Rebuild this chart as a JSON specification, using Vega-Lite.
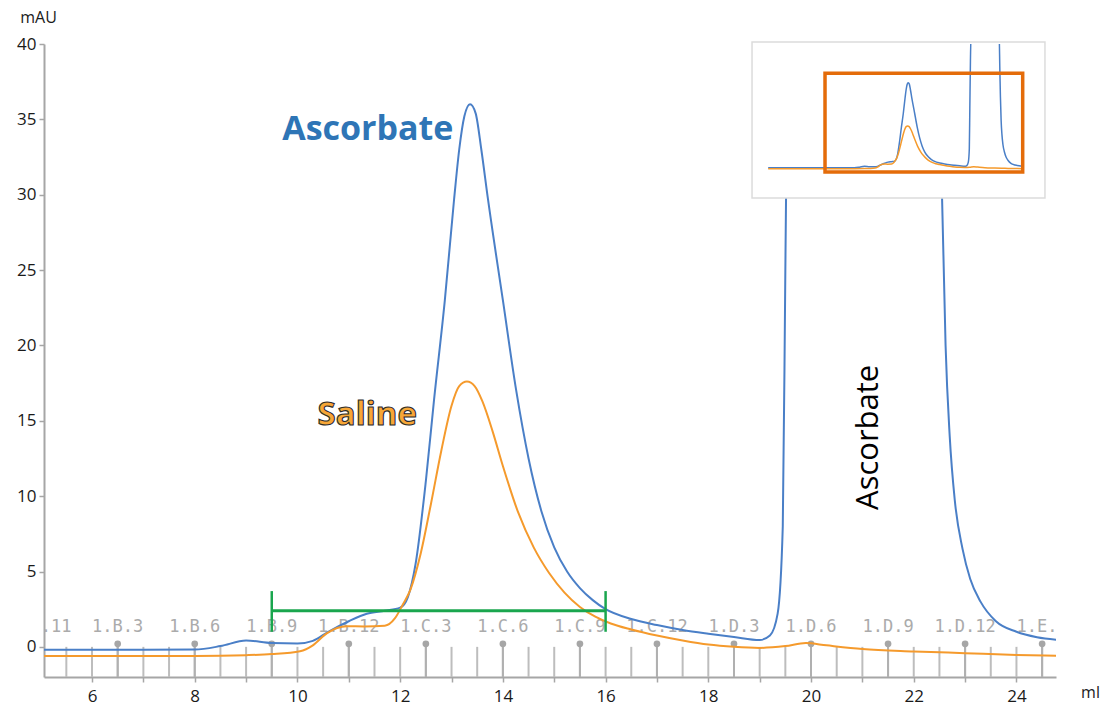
{
  "$schema": "https://vega.github.io/schema/vega-lite/v6.json",
  "autosize": {"type": "none"},
  "padding": {"left": 44, "top": 44, "right": 59, "bottom": 32},
  "width": 1012,
  "height": 633,
  "background": "white",
  "config": {"view": {"stroke": null}, "font": "Open Sans"},
  "datasets": {
    "curves": [
      {"run": "Ascorbate", "ml": -0.6, "mAU": -0.2},
      {"run": "Ascorbate", "ml": 0, "mAU": -0.2},
      {"run": "Ascorbate", "ml": 5.0, "mAU": -0.2},
      {"run": "Ascorbate", "ml": 6.0, "mAU": -0.2},
      {"run": "Ascorbate", "ml": 7.0, "mAU": -0.2},
      {"run": "Ascorbate", "ml": 8.0, "mAU": -0.18},
      {"run": "Ascorbate", "ml": 8.5, "mAU": 0.05},
      {"run": "Ascorbate", "ml": 9.0, "mAU": 0.42},
      {"run": "Ascorbate", "ml": 9.5, "mAU": 0.25},
      {"run": "Ascorbate", "ml": 10.0, "mAU": 0.22},
      {"run": "Ascorbate", "ml": 10.3, "mAU": 0.4},
      {"run": "Ascorbate", "ml": 10.6, "mAU": 1.0},
      {"run": "Ascorbate", "ml": 11.0, "mAU": 1.7},
      {"run": "Ascorbate", "ml": 11.35, "mAU": 2.2},
      {"run": "Ascorbate", "ml": 11.7, "mAU": 2.4},
      {"run": "Ascorbate", "ml": 12.0, "mAU": 2.6},
      {"run": "Ascorbate", "ml": 12.15, "mAU": 3.3},
      {"run": "Ascorbate", "ml": 12.3, "mAU": 5.5},
      {"run": "Ascorbate", "ml": 12.5, "mAU": 11.0},
      {"run": "Ascorbate", "ml": 12.66, "mAU": 16.4},
      {"run": "Ascorbate", "ml": 12.87, "mAU": 23.0},
      {"run": "Ascorbate", "ml": 13.05, "mAU": 29.7},
      {"run": "Ascorbate", "ml": 13.15, "mAU": 33.0},
      {"run": "Ascorbate", "ml": 13.25, "mAU": 35.2},
      {"run": "Ascorbate", "ml": 13.36, "mAU": 36.0},
      {"run": "Ascorbate", "ml": 13.47, "mAU": 35.4},
      {"run": "Ascorbate", "ml": 13.58, "mAU": 33.0},
      {"run": "Ascorbate", "ml": 13.71, "mAU": 29.7},
      {"run": "Ascorbate", "ml": 14.0, "mAU": 23.0},
      {"run": "Ascorbate", "ml": 14.26, "mAU": 17.0},
      {"run": "Ascorbate", "ml": 14.5, "mAU": 12.5},
      {"run": "Ascorbate", "ml": 14.75, "mAU": 9.0},
      {"run": "Ascorbate", "ml": 15.0, "mAU": 6.6},
      {"run": "Ascorbate", "ml": 15.25, "mAU": 5.0},
      {"run": "Ascorbate", "ml": 15.5, "mAU": 3.9},
      {"run": "Ascorbate", "ml": 15.75, "mAU": 3.1},
      {"run": "Ascorbate", "ml": 16.0, "mAU": 2.5},
      {"run": "Ascorbate", "ml": 16.5, "mAU": 1.85},
      {"run": "Ascorbate", "ml": 17.0, "mAU": 1.45},
      {"run": "Ascorbate", "ml": 17.5, "mAU": 1.12},
      {"run": "Ascorbate", "ml": 18.0, "mAU": 0.87},
      {"run": "Ascorbate", "ml": 18.5, "mAU": 0.65},
      {"run": "Ascorbate", "ml": 19.0, "mAU": 0.45},
      {"run": "Ascorbate", "ml": 19.2, "mAU": 0.75},
      {"run": "Ascorbate", "ml": 19.35, "mAU": 2.2},
      {"run": "Ascorbate", "ml": 19.45, "mAU": 8},
      {"run": "Ascorbate", "ml": 19.5, "mAU": 25},
      {"run": "Ascorbate", "ml": 19.56, "mAU": 45},
      {"run": "Ascorbate", "ml": 19.65, "mAU": 60},
      {"run": "Ascorbate", "ml": 22.4, "mAU": 60},
      {"run": "Ascorbate", "ml": 22.5, "mAU": 40},
      {"run": "Ascorbate", "ml": 22.55, "mAU": 30},
      {"run": "Ascorbate", "ml": 22.62, "mAU": 20},
      {"run": "Ascorbate", "ml": 22.7, "mAU": 14},
      {"run": "Ascorbate", "ml": 22.8, "mAU": 9.7},
      {"run": "Ascorbate", "ml": 22.95, "mAU": 6.5},
      {"run": "Ascorbate", "ml": 23.1, "mAU": 4.5},
      {"run": "Ascorbate", "ml": 23.3, "mAU": 3.0},
      {"run": "Ascorbate", "ml": 23.6, "mAU": 1.7},
      {"run": "Ascorbate", "ml": 24.0, "mAU": 1.0},
      {"run": "Ascorbate", "ml": 24.4, "mAU": 0.64},
      {"run": "Ascorbate", "ml": 24.8, "mAU": 0.47},
      {"run": "Saline", "ml": -0.6, "mAU": -0.6},
      {"run": "Saline", "ml": 0, "mAU": -0.6},
      {"run": "Saline", "ml": 5.0, "mAU": -0.6},
      {"run": "Saline", "ml": 7.0, "mAU": -0.6},
      {"run": "Saline", "ml": 8.0, "mAU": -0.6},
      {"run": "Saline", "ml": 9.0, "mAU": -0.55},
      {"run": "Saline", "ml": 9.5, "mAU": -0.48},
      {"run": "Saline", "ml": 10.05, "mAU": -0.29},
      {"run": "Saline", "ml": 10.3, "mAU": 0.1},
      {"run": "Saline", "ml": 10.57, "mAU": 0.9},
      {"run": "Saline", "ml": 10.96, "mAU": 1.37},
      {"run": "Saline", "ml": 11.3, "mAU": 1.35},
      {"run": "Saline", "ml": 11.7, "mAU": 1.4},
      {"run": "Saline", "ml": 11.9, "mAU": 1.9},
      {"run": "Saline", "ml": 12.05, "mAU": 2.8},
      {"run": "Saline", "ml": 12.2, "mAU": 3.8},
      {"run": "Saline", "ml": 12.4, "mAU": 6.2},
      {"run": "Saline", "ml": 12.6, "mAU": 9.5},
      {"run": "Saline", "ml": 12.8, "mAU": 13.0},
      {"run": "Saline", "ml": 13.0, "mAU": 16.0},
      {"run": "Saline", "ml": 13.15, "mAU": 17.3},
      {"run": "Saline", "ml": 13.3, "mAU": 17.6},
      {"run": "Saline", "ml": 13.45, "mAU": 17.3},
      {"run": "Saline", "ml": 13.6, "mAU": 16.3},
      {"run": "Saline", "ml": 13.8, "mAU": 14.3},
      {"run": "Saline", "ml": 14.0, "mAU": 12.0},
      {"run": "Saline", "ml": 14.3, "mAU": 8.9},
      {"run": "Saline", "ml": 14.6, "mAU": 6.6},
      {"run": "Saline", "ml": 14.9, "mAU": 4.9},
      {"run": "Saline", "ml": 15.2, "mAU": 3.6},
      {"run": "Saline", "ml": 15.5, "mAU": 2.65},
      {"run": "Saline", "ml": 15.8, "mAU": 2.0},
      {"run": "Saline", "ml": 16.1, "mAU": 1.55},
      {"run": "Saline", "ml": 16.5, "mAU": 1.15},
      {"run": "Saline", "ml": 17.0, "mAU": 0.75},
      {"run": "Saline", "ml": 17.5, "mAU": 0.42},
      {"run": "Saline", "ml": 18.0, "mAU": 0.15},
      {"run": "Saline", "ml": 18.5, "mAU": 0.0},
      {"run": "Saline", "ml": 19.0, "mAU": -0.07},
      {"run": "Saline", "ml": 19.5, "mAU": 0.05},
      {"run": "Saline", "ml": 19.9, "mAU": 0.25},
      {"run": "Saline", "ml": 20.3, "mAU": 0.1},
      {"run": "Saline", "ml": 21.0, "mAU": -0.14},
      {"run": "Saline", "ml": 22.0, "mAU": -0.3},
      {"run": "Saline", "ml": 23.0, "mAU": -0.42},
      {"run": "Saline", "ml": 24.0, "mAU": -0.54},
      {"run": "Saline", "ml": 24.8, "mAU": -0.59}
    ],
    "fractions": [
      {"ml": 5.5}, {"ml": 6.0}, {"ml": 6.5}, {"ml": 7.0}, {"ml": 7.5}, {"ml": 8.0}, {"ml": 8.5}, {"ml": 9.0}, {"ml": 9.5}, {"ml": 10.0},
      {"ml": 10.5}, {"ml": 11.0}, {"ml": 11.5}, {"ml": 12.0}, {"ml": 12.5}, {"ml": 13.0}, {"ml": 13.5}, {"ml": 14.0}, {"ml": 14.5}, {"ml": 15.0},
      {"ml": 15.5}, {"ml": 16.0}, {"ml": 16.5}, {"ml": 17.0}, {"ml": 17.5}, {"ml": 18.0}, {"ml": 18.5}, {"ml": 19.0}, {"ml": 19.5}, {"ml": 20.0},
      {"ml": 20.5}, {"ml": 21.0}, {"ml": 21.5}, {"ml": 22.0}, {"ml": 22.5}, {"ml": 23.0}, {"ml": 23.5}, {"ml": 24.0}, {"ml": 24.5}
    ],
    "pins": [
      {"ml": 5.0, "label": "1.A.11"},
      {"ml": 6.5, "label": "1.B.3"},
      {"ml": 8.0, "label": "1.B.6"},
      {"ml": 9.5, "label": "1.B.9"},
      {"ml": 11.0, "label": "1.B.12"},
      {"ml": 12.5, "label": "1.C.3"},
      {"ml": 14.0, "label": "1.C.6"},
      {"ml": 15.5, "label": "1.C.9"},
      {"ml": 17.0, "label": "1.C.12"},
      {"ml": 18.5, "label": "1.D.3"},
      {"ml": 20.0, "label": "1.D.6"},
      {"ml": 21.5, "label": "1.D.9"},
      {"ml": 23.0, "label": "1.D.12"},
      {"ml": 24.5, "label": "1.E.3"}
    ]
  },
  "resolve": {"scale": {"x": "independent", "y": "independent"}},
  "layer": [
    {
      "layer": [
        {
          "data": {"name": "fractions"},
          "mark": {"type": "rule", "color": "#bdbdbd", "strokeWidth": 2, "clip": true},
          "encoding": {
            "x": {"field": "ml", "type": "quantitative"},
            "y": {"datum": 0},
            "y2": {"datum": -2}
          }
        },
        {
          "data": {"name": "pins"},
          "mark": {"type": "rule", "color": "#b0b0b0", "strokeWidth": 2, "clip": true},
          "encoding": {
            "x": {"field": "ml", "type": "quantitative"},
            "y": {"datum": 0.2},
            "y2": {"datum": -2}
          }
        },
        {
          "data": {"name": "pins"},
          "mark": {"type": "point", "filled": true, "color": "#a6a6a6", "size": 45, "opacity": 1, "clip": true},
          "encoding": {
            "x": {"field": "ml", "type": "quantitative"},
            "y": {"datum": 0.2}
          }
        },
        {
          "data": {"name": "pins"},
          "mark": {"type": "text", "font": "DejaVu Sans Mono", "fontSize": 17, "color": "#ababab", "baseline": "middle", "align": "center", "clip": true},
          "encoding": {
            "x": {"field": "ml", "type": "quantitative"},
            "y": {"datum": 1.3},
            "text": {"field": "label"}
          }
        },
        {
          "data": {"name": "curves"},
          "mark": {"type": "line", "strokeWidth": 2, "interpolate": "monotone", "clip": true},
          "encoding": {
            "x": {
              "field": "ml", "type": "quantitative",
              "scale": {"domain": [5.065, 24.77], "nice": false, "zero": false},
              "axis": {
                "values": [6, 7, 8, 9, 10, 11, 12, 13, 14, 15, 16, 17, 18, 19, 20, 21, 22, 23, 24],
                "labelExpr": "datum.value % 2 == 0 ? datum.label : ''",
                "grid": false,
                "domainColor": "#a6a6a6", "domainWidth": 2,
                "tickColor": "#a6a6a6", "tickWidth": 1.5, "tickSize": 5,
                "labelFont": "Open Sans", "labelFontSize": 17, "labelColor": "#1a1a1a", "labelPadding": 6,
                "labelFlush": false,
                "title": "ml", "titleFont": "Open Sans", "titleFontSize": 16, "titleFontWeight": "normal", "titleColor": "#1a1a1a",
                "titleX": 1046, "titleY": 15, "titleAlign": "center", "titleBaseline": "middle", "titleAnchor": null
              }
            },
            "y": {
              "field": "mAU", "type": "quantitative",
              "scale": {"domain": [-2, 40], "nice": false, "zero": false},
              "axis": {
                "values": [0, 2.5, 5, 7.5, 10, 12.5, 15, 17.5, 20, 22.5, 25, 27.5, 30, 32.5, 35, 37.5, 40],
                "labelExpr": "datum.value % 5 == 0 ? datum.label : ''",
                "grid": false,
                "domainColor": "#a6a6a6", "domainWidth": 2,
                "tickColor": "#a6a6a6", "tickWidth": 1.5, "tickSize": 5,
                "labelFont": "Open Sans", "labelFontSize": 17, "labelColor": "#1a1a1a", "labelPadding": 3,
                "labelFlush": false,
                "title": "mAU", "titleFont": "Open Sans", "titleFontSize": 16, "titleFontWeight": "normal", "titleColor": "#1a1a1a",
                "titleAngle": 0, "titleX": -6, "titleY": -27, "titleAlign": "center", "titleBaseline": "middle", "titleAnchor": null
              }
            },
            "color": {
              "field": "run", "type": "nominal",
              "scale": {"domain": ["Ascorbate", "Saline"], "range": ["#4a7fc7", "#f59a2c"]},
              "legend": null
            }
          }
        },
        {
          "data": {"values": [{"a": 9.5, "b": 16.0, "v": 2.4}]},
          "mark": {"type": "rule", "color": "#1aa64e", "strokeWidth": 3},
          "encoding": {
            "x": {"field": "a", "type": "quantitative"},
            "x2": {"field": "b"},
            "y": {"field": "v", "type": "quantitative"}
          }
        },
        {
          "data": {"values": [{"a": 9.5, "lo": 1.0, "hi": 3.7}, {"a": 16.0, "lo": 1.0, "hi": 3.7}]},
          "mark": {"type": "rule", "color": "#1aa64e", "strokeWidth": 2.5},
          "encoding": {
            "x": {"field": "a", "type": "quantitative"},
            "y": {"field": "lo", "type": "quantitative"},
            "y2": {"field": "hi"}
          }
        },
        {
          "data": {"values": [{"ml": 11.37, "mAU": 34.3, "label": "Ascorbate"}]},
          "mark": {"type": "text", "font": "Open Sans", "fontWeight": "bold", "fontSize": 34, "color": "#2e75b6", "align": "center", "baseline": "middle"},
          "encoding": {
            "x": {"field": "ml", "type": "quantitative"},
            "y": {"field": "mAU", "type": "quantitative"},
            "text": {"field": "label"}
          }
        },
        {
          "data": {"values": [{"ml": 11.36, "mAU": 15.4, "label": "Saline"}]},
          "mark": {"type": "text", "font": "Open Sans", "fontWeight": "bold", "fontSize": 33, "fill": "#f7a637", "stroke": "#2b2b2b", "strokeWidth": 1.1, "align": "center", "baseline": "middle"},
          "encoding": {
            "x": {"field": "ml", "type": "quantitative"},
            "y": {"field": "mAU", "type": "quantitative"},
            "text": {"field": "label"}
          }
        },
        {
          "data": {"values": [{"ml": 21.12, "mAU": 13.9, "label": "Ascorbate"}]},
          "mark": {"type": "text", "font": "Open Sans", "fontSize": 31, "color": "#000000", "angle": 270, "align": "center", "baseline": "middle"},
          "encoding": {
            "x": {"field": "ml", "type": "quantitative"},
            "y": {"field": "mAU", "type": "quantitative"},
            "text": {"field": "label"}
          }
        }
      ]
    },
    {
      "layer": [
        {
          "data": {"values": [{"x1": -2.21, "x2": 26.99, "y1": -13.06, "y2": 53.3}]},
          "mark": {"type": "rect", "fill": "#ffffff", "stroke": "#dcdcdc", "strokeWidth": 1.5},
          "encoding": {
            "x": {"field": "x1", "type": "quantitative", "scale": {"domain": [0, 25], "range": [730.2, 981], "nice": false, "zero": false}, "axis": null},
            "x2": {"field": "x2"},
            "y": {"field": "y1", "type": "quantitative", "scale": {"domain": [0, 40], "range": [123.3, 29.3], "nice": false, "zero": false}, "axis": null},
            "y2": {"field": "y2"}
          }
        },
        {
          "data": {"name": "curves"},
          "mark": {"type": "line", "strokeWidth": 1.5, "interpolate": "monotone", "clip": true},
          "encoding": {
            "x": {"field": "ml", "type": "quantitative"},
            "y": {"field": "mAU", "type": "quantitative"},
            "color": {"field": "run", "type": "nominal", "legend": null}
          }
        },
        {
          "data": {"values": [{"x1": 5.065, "x2": 24.77, "y1": -2, "y2": 40}]},
          "mark": {"type": "rect", "fillOpacity": 0, "fill": "#ffffff", "stroke": "#e46c0a", "strokeWidth": 3.5},
          "encoding": {
            "x": {"field": "x1", "type": "quantitative"},
            "x2": {"field": "x2"},
            "y": {"field": "y1", "type": "quantitative"},
            "y2": {"field": "y2"}
          }
        }
      ]
    }
  ]
}
